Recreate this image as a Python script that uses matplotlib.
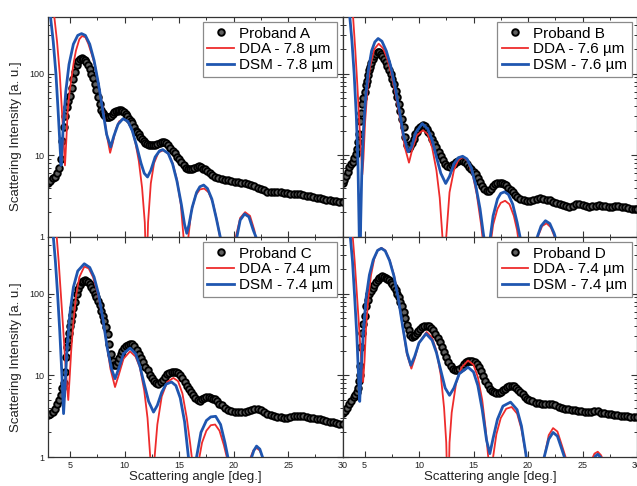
import matplotlib
matplotlib.use("Agg")
import matplotlib.pyplot as plt
from matplotlib.ticker import MultipleLocator, FixedLocator, FixedFormatter, LogLocator, NullFormatter

plt.rcParams['font.family'] = ['Liberation Sans', 'DejaVu Sans']

# ---------------- data ----------------
panel_names = ["A", "B", "C", "D"]
sizes = ["7.8", "7.6", "7.4", "7.4"]

# Proband A
angle_A = [3.0,3.2,3.4,3.6,3.8,4.0,4.15,4.3,4.4,4.55,4.7,4.85,5.0,5.15,5.3,5.45,5.6,5.75,5.9,6.05,
           6.2,6.35,6.5,6.65,6.8,6.95,7.1,7.25,7.4,7.55,7.7,7.85,8.0,8.15,8.3,8.45,8.6,8.75,8.9,9.05,
           9.2,9.35,9.5,9.65,9.8,9.95,10.1,10.25,10.4,10.55,10.7,10.85,11.0,11.15,11.3,11.45,11.6,11.75,11.9,12.05,
           12.2,12.4,12.6,12.8,13.0,13.2,13.4,13.6,13.8,14.0,14.2,14.4,14.6,14.8,15.0,15.2,15.4,15.6,15.8,16.0,
           16.2,16.4,16.6,16.8,17.0,17.2,17.4,17.6,17.8,18.0,18.3,18.6,18.9,19.2,19.5,19.8,20.1,20.4,20.7,21.0,
           21.3,21.6,21.9,22.2,22.5,22.8,23.1,23.4,23.7,24.0,24.3,24.6,24.9,25.2,25.5,25.8,26.1,26.4,26.7,27.0,
           27.3,27.6,27.9,28.2,28.5,28.8,29.1,29.4,29.7,30.0]
meas_A = [4.5,4.8,5.2,5.4,6.0,7.0,9.0,15,22,30,39,46,53,66,85,105,128,145,152,154,
          152,148,140,128,115,100,88,75,63,52,42,36,33,31,29.5,29,29.5,30.5,32,33.5,
          34.5,35,35.5,35.5,35,34,32,30,28,26,24.5,22,20,19,18,16.8,16,15,14.3,13.9,
          13.5,13.3,13.2,13.5,13.9,14.2,14.5,14.5,14.0,13.3,12.3,11.3,10.5,9.6,8.9,8.3,7.6,7.0,6.8,6.7,
          6.7,6.9,7.2,7.3,7.1,6.8,6.7,6.4,6.0,5.7,5.4,5.2,5.1,5.0,4.9,4.8,4.7,4.65,4.6,4.5,
          4.4,4.3,4.15,4.0,3.85,3.7,3.55,3.5,3.55,3.55,3.5,3.45,3.4,3.35,3.3,3.3,3.3,3.25,3.2,3.15,
          3.05,3.0,2.95,2.9,2.85,2.8,2.75,2.75,2.7,2.7]
dda_angle_A = [3.45,3.55,3.8,4.05,4.25,4.4,4.53,4.65,4.78,4.95,5.14,5.34,5.54,5.85,6.1,6.4,6.67,7.0,7.28,7.55,
               7.74,8.05,8.35,8.67,8.9,9.2,9.5,9.9,10.3,10.7,11.0,11.3,11.6,11.85,12.0,12.15,12.4,12.7,13.1,13.55,
               14.0,14.4,14.8,15.15,15.4,15.6,15.85,16.1,16.5,16.9,17.3,17.7,18.1,18.5,18.8,19.2,19.9,20.2,20.6,21.05,
               21.5,21.9,22.2,22.9]
dda_A = [900,500,250,100,35,15,7.5,15,35,60,91,140,193,265,290,280,233,170,126,80,
         57,35,18,10.7,14,21,26,28,26,20,14,8.5,4,1.5,0.3,1.5,4.5,8,10.8,11.5,
         10.5,8,5,2.5,1.0,0.2,1.0,2.0,3.2,3.8,3.9,3.5,2.6,1.5,0.9,0.1,0.6,1.0,1.7,2.0,
         1.8,1.2,0.7,0.05]
dsm_angle_A = [3.1,3.2,3.45,3.7,3.9,4.05,4.17,4.35,4.6,4.9,5.3,5.7,6.05,6.4,6.8,7.2,7.6,8.0,8.35,8.72,
               9.0,9.4,9.85,10.3,10.7,11.1,11.5,11.8,12.1,12.4,12.8,13.2,13.5,14.0,14.4,14.8,15.2,15.5,15.7,15.9,
               16.2,16.6,16.9,17.25,17.6,18.0,18.4,18.8,19.5,20.3,20.6,21.0,21.4,21.8,22.1,22.5]
dsm_A = [900,500,250,100,35,15,7.5,20,60,130,230,295,310,295,230,145,75,35,18,12.6,
         17,24,28,26,20,13,8,6,5.4,6.5,9.5,11.3,11.7,10.5,7.8,4.8,2.5,1.4,1.1,1.4,
         2.3,3.5,4.1,4.3,3.9,2.9,1.7,0.95,0.4,1.0,1.6,1.9,1.75,1.2,0.95,0.5]

# Proband B
angle_B = [3.0,3.15,3.3,3.45,3.6,3.75,3.9,4.05,4.2,4.3,4.4,4.5,4.6,4.7,4.8,4.9,5.0,5.1,5.2,5.3,
           5.4,5.5,5.6,5.75,5.9,6.05,6.2,6.35,6.5,6.65,6.8,6.95,7.1,7.25,7.4,7.55,7.7,7.85,8.0,8.15,
           8.3,8.45,8.6,8.75,8.9,9.05,9.2,9.35,9.5,9.65,9.8,9.95,10.1,10.25,10.4,10.55,10.7,10.85,11.0,11.2,
           11.4,11.6,11.8,12.0,12.2,12.4,12.6,12.8,13.0,13.2,13.4,13.6,13.8,14.0,14.2,14.4,14.6,14.8,15.0,15.2,
           15.4,15.6,15.8,16.0,16.2,16.4,16.6,16.8,17.0,17.2,17.4,17.6,17.8,18.0,18.2,18.4,18.6,18.8,19.0,19.3,
           19.6,19.9,20.2,20.5,20.8,21.1,21.4,21.7,22.0,22.3,22.6,22.9,23.2,23.5,23.8,24.1,24.4,24.7,25.0,25.3,
           25.6,25.9,26.2,26.5,26.8,27.1,27.4,27.7,28.0,28.3,28.6,28.9,29.2,29.5,29.8,30.0]
meas_B = [4.6,5.0,5.6,6.2,7.2,7.8,8.3,9.2,10.2,12,14.5,18,26,33,42,50,60,72,82,95,
          110,122,135,150,165,175,183,182,175,165,152,138,125,112,98,87,75,62,52,43,
          35,28,22,16.5,13.5,12.1,12.8,14.2,16,18,19.5,21,22.2,23,23.2,22.5,21,19.3,18,16,
          14,12.5,11,9.8,8.8,7.9,7.3,7.2,7.5,7.9,8.3,8.6,8.7,8.6,8.2,7.7,7.2,6.7,6.2,5.8,
          5.3,4.7,4.2,3.85,3.6,3.6,3.9,4.2,4.4,4.55,4.6,4.55,4.45,4.3,4.0,3.75,3.5,3.25,3.05,2.9,
          2.8,2.75,2.75,2.8,2.9,2.95,2.9,2.85,2.8,2.7,2.6,2.55,2.45,2.35,2.3,2.4,2.5,2.55,2.45,2.35,
          2.3,2.35,2.4,2.45,2.4,2.35,2.3,2.3,2.35,2.35,2.3,2.3,2.25,2.2,2.2,2.2]
dda_angle_B = [3.85,3.95,4.15,4.35,4.55,4.7,4.8,4.9,5.05,5.25,5.5,5.9,6.3,6.7,7.1,7.5,7.9,8.3,8.7,9.08,
               9.4,9.8,10.37,10.8,11.2,11.6,11.9,12.15,12.3,12.5,12.8,13.2,13.6,14.05,14.5,14.9,15.3,15.7,15.95,16.2,
               16.5,16.8,17.2,17.5,17.9,18.3,18.7,19.0,19.3,20.0,20.6,20.9,21.3,21.7,22.1,22.5,23.0]
dda_B = [900,500,200,70,22,10,5.8,9,25,60,120,200,233,205,150,95,52,26,12.5,8.1,
         12,17.5,20.3,18,12.5,6.5,3,1.0,0.2,1.0,3.5,6.5,8.7,9.5,8.4,6,3.3,1.4,0.7,0.1,
         0.7,1.4,2.2,2.6,2.76,2.5,1.8,1.2,0.6,0.05,0.6,1.0,1.35,1.46,1.3,0.95,0.3]
dsm_angle_B = [3.55,3.65,3.85,4.05,4.25,4.4,4.52,4.58,4.65,4.75,4.9,5.1,5.35,5.65,5.95,6.25,6.6,7.0,7.4,7.8,
               8.2,8.6,9.0,9.3,9.7,10.3,10.8,11.2,11.6,12.0,12.45,12.8,13.2,13.6,14.0,14.4,14.8,15.2,15.6,15.9,
               16.2,16.5,16.8,17.2,17.5,17.85,18.2,18.6,19.0,19.3,19.8,20.4,20.8,21.2,21.6,22.0,22.4,22.7]
dsm_B = [900,500,250,100,30,8,1.0,0.3,1.5,6,20,50,110,190,245,270,250,190,125,70,
         35,17,11,12.5,19,24.4,21,15.5,9.5,6,4.5,5.5,7.8,9.3,9.7,9.0,7,4.3,2.2,1.1,
         0.6,0.9,1.8,2.9,3.4,3.55,3.3,2.5,1.5,0.95,0.3,0.5,0.95,1.35,1.57,1.45,1.1,0.8]

# Proband C
angle_C = [3.0,3.2,3.4,3.6,3.8,4.0,4.15,4.3,4.4,4.5,4.6,4.7,4.8,4.9,5.0,5.1,5.2,5.3,5.45,5.6,
           5.75,5.9,6.05,6.2,6.35,6.5,6.65,6.8,6.95,7.1,7.25,7.4,7.55,7.7,7.85,8.0,8.15,8.3,8.45,8.6,
           8.75,8.9,9.05,9.2,9.35,9.5,9.65,9.8,9.95,10.1,10.3,10.5,10.7,10.9,11.1,11.3,11.5,11.7,11.9,12.1,
           12.3,12.5,12.7,12.9,13.1,13.3,13.5,13.7,13.9,14.1,14.3,14.5,14.7,14.9,15.1,15.3,15.5,15.7,15.9,16.1,
           16.3,16.5,16.7,16.9,17.1,17.3,17.5,17.7,17.9,18.1,18.3,18.5,18.7,18.9,19.2,19.5,19.8,20.1,20.4,20.7,
           21.0,21.3,21.6,21.9,22.2,22.5,22.8,23.1,23.4,23.7,24.0,24.3,24.6,24.9,25.2,25.5,25.8,26.1,26.4,26.7,
           27.0,27.3,27.6,27.9,28.2,28.5,28.8,29.1,29.4,29.7,30.0]
meas_C = [3.3,3.4,3.6,3.9,4.4,5.0,5.8,7.0,8.0,11,17,22,27,33,40,47,55,66,80,98,
          115,128,138,145,146,143,139,132,122,112,100,90,81,72,62,54,46,39,32,24,
          18.5,15,13.5,13.3,14.5,16.5,18.5,20,21.5,22.6,23.8,24.4,24,22.6,20.5,18.5,16.5,14.5,12.8,11.5,
          10.2,9.2,8.5,8.0,7.9,8.3,8.9,9.6,10.3,10.8,11.0,11.1,11.0,10.6,10.0,9.2,8.2,7.5,6.9,6.2,
          5.7,5.3,5.0,4.9,5.1,5.3,5.4,5.4,5.3,5.2,5.1,4.8,4.5,4.3,4.0,3.8,3.7,3.6,3.55,3.55,
          3.6,3.7,3.75,3.85,3.9,3.75,3.55,3.4,3.25,3.15,3.1,3.05,3.0,3.0,3.05,3.15,3.2,3.2,3.2,3.1,
          3.0,3.0,2.95,2.9,2.85,2.8,2.7,2.65,2.6,2.55,2.55]
dda_angle_C = [3.7,3.77,3.95,4.15,4.35,4.55,4.7,4.83,4.95,5.1,5.3,5.55,5.85,6.3,6.7,7.1,7.5,7.9,8.3,8.7,
               9.12,9.45,9.9,10.5,11.0,11.4,11.8,12.1,12.35,12.55,12.75,13.0,13.4,13.9,14.47,14.9,15.3,15.7,16.0,16.2,
               16.5,16.8,17.1,17.5,17.9,18.3,18.7,19.1,19.45,20.0,21.0,21.5,21.8,22.1,22.4,22.7,23.2]
dda_C = [900,500,250,100,40,15,8,5.0,9,20,45,95,160,215,205,160,105,58,27,12,
         7.2,10,16,19.7,17,12.5,6.5,3,1.0,0.2,1.0,2.5,5.5,8.3,9.3,8.5,6,3,1.5,0.9,
         0.1,0.9,1.5,2.1,2.45,2.5,2.1,1.4,0.9,0.1,0.4,0.95,1.2,1.29,1.2,0.95,0.3]
dsm_angle_C = [3.4,3.46,3.65,3.85,4.05,4.25,4.4,4.55,4.75,5.0,5.3,5.7,6.3,6.8,7.2,7.6,8.0,8.4,8.8,9.12,
               9.45,9.9,10.5,11.0,11.4,11.8,12.2,12.65,13.0,13.4,13.8,14.3,14.7,15.1,15.5,15.85,16.2,16.6,17.0,17.5,
               17.9,18.35,18.8,19.2,19.5,20.1,21.2,21.6,21.85,22.1,22.4,22.7,23.1]
dsm_C = [900,500,250,100,35,10,3.4,8,25,60,120,190,233,210,160,100,50,22,12,9.1,
         12,18.5,21.6,18.5,13,7.8,4.8,3.55,4.3,6.2,7.8,8.3,7.5,5.3,2.7,1.0,0.2,1.0,2.0,2.8,
         3.1,3.15,2.5,1.5,0.95,0.2,0.5,0.95,1.2,1.36,1.25,0.95,0.4]

# Proband D
angle_D = [3.0,3.2,3.4,3.6,3.8,4.0,4.15,4.3,4.4,4.5,4.56,4.62,4.7,4.8,4.9,5.0,5.15,5.3,5.45,5.6,
           5.75,5.9,6.05,6.2,6.35,6.5,6.65,6.8,6.95,7.1,7.25,7.4,7.55,7.7,7.85,8.0,8.15,8.3,8.45,8.6,
           8.75,8.9,9.05,9.2,9.35,9.5,9.65,9.8,9.95,10.1,10.3,10.5,10.7,10.9,11.1,11.3,11.5,11.7,11.9,12.1,
           12.3,12.5,12.7,12.9,13.1,13.3,13.5,13.7,13.9,14.1,14.3,14.5,14.7,14.9,15.1,15.3,15.5,15.7,15.9,16.1,
           16.3,16.5,16.7,16.9,17.1,17.3,17.5,17.7,17.9,18.1,18.3,18.5,18.7,18.9,19.1,19.3,19.5,19.7,19.9,20.1,
           20.4,20.7,21.0,21.3,21.6,21.9,22.2,22.5,22.8,23.1,23.4,23.7,24.0,24.3,24.6,24.9,25.2,25.5,25.8,26.1,
           26.4,26.7,27.0,27.3,27.6,27.9,28.2,28.5,28.8,29.1,29.4,29.7,30.0]
meas_D = [3.5,3.7,4.0,4.4,4.9,5.4,5.8,6.3,7.0,8.5,10,13,22,33,43,54,70,85,98,108,
          118,128,138,148,155,160,163,162,158,153,147,140,130,120,110,100,90,80,70,60,
          50,42,36,31,29.5,30,31.5,33,35,37,39,40,40.5,40,38,35.5,32.5,29,25.6,22.5,
          19.5,16.8,14.5,13,12.1,11.6,11.5,11.9,12.7,13.6,14.4,15,15.2,15.1,14.6,13.8,12.7,11.3,9.8,8.6,
          7.6,6.9,6.5,6.2,6.0,6.0,6.2,6.6,6.9,7.2,7.4,7.5,7.4,7.1,6.7,6.3,5.9,5.5,5.2,5.0,
          4.8,4.65,4.55,4.5,4.5,4.5,4.45,4.3,4.15,4.0,3.9,3.85,3.8,3.75,3.7,3.65,3.6,3.55,3.6,3.7,
          3.65,3.5,3.45,3.4,3.35,3.3,3.25,3.2,3.15,3.15,3.1,3.1,3.1]
dda_angle_D = [3.85,3.92,4.1,4.3,4.5,4.7,4.87,5.0,5.15,5.35,5.6,5.9,6.2,6.55,6.9,7.3,7.7,8.1,8.5,8.9,
               9.3,9.6,10.0,10.7,11.2,11.6,12.0,12.3,12.5,12.66,12.8,13.0,13.4,13.9,14.5,15.0,15.4,15.8,16.1,16.35,
               16.55,16.8,17.1,17.5,18.0,18.5,19.0,19.4,19.85,20.6,21.5,21.9,22.3,22.7,23.1,23.5,24.2,25.8,26.1,26.4,
               26.7,27.0]
dda_D = [900,500,250,100,40,15,8.3,15,40,90,170,270,340,365,340,260,170,90,40,18,
         12.1,16,25,34,29,20,10,4,1.5,0.2,1.5,3.5,8,12.5,15.2,13.5,9.5,5,2.3,1.0,
         0.1,1.0,1.9,3,3.9,4.1,3.4,2.2,1.0,0.1,1.0,1.85,2.26,2.05,1.4,0.95,0.2,0.9,1.1,1.16,
         1.05,0.85]
dsm_angle_D = [3.6,3.7,3.9,4.1,4.3,4.45,4.56,4.7,4.9,5.15,5.45,5.8,6.2,6.55,6.9,7.3,7.7,8.1,8.5,8.9,
               9.25,9.6,10.0,10.65,11.2,11.6,12.0,12.4,12.8,13.2,13.7,14.5,15.0,15.4,15.8,16.2,16.5,16.8,17.2,17.7,
               18.4,19.0,19.4,19.8,20.5,21.4,21.9,22.3,22.7,23.1,23.45,24.2,25.9,26.2,26.4,26.7,27.0]
dsm_D = [900,500,250,90,30,10,4.8,12,35,90,170,260,340,360,335,255,165,88,40,19,
         13.3,17,25,32.4,27,19,11.5,7,5.7,7,10.5,12.6,11,7.5,3.8,1.6,1.1,1.7,2.9,4.2,
         4.7,3.8,2.4,1.1,0.2,0.9,1.65,2.0,1.8,1.25,0.9,0.2,0.85,1.03,1.08,0.98,0.8]

measured = {"A": (angle_A, meas_A), "B": (angle_B, meas_B), "C": (angle_C, meas_C), "D": (angle_D, meas_D)}
dda = {"A": (dda_angle_A, dda_A), "B": (dda_angle_B, dda_B), "C": (dda_angle_C, dda_C), "D": (dda_angle_D, dda_D)}
dsm = {"A": (dsm_angle_A, dsm_A), "B": (dsm_angle_B, dsm_B), "C": (dsm_angle_C, dsm_C), "D": (dsm_angle_D, dsm_D)}

for d in (measured, dda, dsm):
    for k, (xx, yy) in d.items():
        assert len(xx) == len(yy), (k, len(xx), len(yy))

# ---------------- figure ----------------
W, H = 637, 486
fig = plt.figure(figsize=(W / 100, H / 100), dpi=100)

left_px, mid_px, right_px = 48.3, 342.7, 637.0
top_px, midy_px, bot_px = 16.7, 236.7, 457.0

def rect(x0, x1, y0, y1):
    return [x0 / W, 1 - y1 / H, (x1 - x0) / W, (y1 - y0) / H]

rects = {
    "A": rect(left_px, mid_px, top_px, midy_px),
    "B": rect(mid_px, right_px, top_px, midy_px),
    "C": rect(left_px, mid_px, midy_px, bot_px),
    "D": rect(mid_px, right_px, midy_px, bot_px),
}

red = "#ee2c2c"
blue = "#1f56b0"
spine_col = "#333333"

for i, name in enumerate(panel_names):
    ax = fig.add_axes(rects[name])
    mx, my = measured[name]
    rx, ry = dda[name]
    bx, by = dsm[name]
    ax.plot(mx, my, linestyle="none", marker="o", ms=4.7, mfc="#606060", mec="black",
            mew=1.4, label=f"Proband {name}", zorder=2)
    ax.plot(rx, ry, color=red, lw=1.3, label=f"DDA - {sizes[i]} µm", zorder=3)
    ax.plot(bx, by, color=blue, lw=2.0, label=f"DSM - {sizes[i]} µm", zorder=4)

    ax.set_yscale("log")
    ax.set_xlim(3, 30)
    ax.set_ylim(1, 500)

    ax.xaxis.set_major_locator(MultipleLocator(5))
    ax.xaxis.set_minor_locator(MultipleLocator(2.5))
    ax.yaxis.set_major_locator(FixedLocator([1, 10, 100]))
    ax.yaxis.set_major_formatter(FixedFormatter(["1", "10", "100"]))
    ax.yaxis.set_minor_locator(LogLocator(base=10, subs=(2, 3, 4, 5, 6, 7, 8, 9), numticks=12))
    ax.yaxis.set_minor_formatter(NullFormatter())

    ax.tick_params(which="both", direction="in", top=True, right=True,
                   colors=spine_col, labelcolor="#222222", labelsize=6.5, pad=3)
    ax.tick_params(which="major", length=4, width=0.8)
    ax.tick_params(which="minor", length=2.3, width=0.7)
    for sp in ax.spines.values():
        sp.set_color(spine_col)
        sp.set_linewidth(0.9)

    if name in ("A", "B"):
        ax.tick_params(labelbottom=False)
    else:
        ax.set_xlabel("Scattering angle [deg.]", fontsize=9.5, color="#222222")
        ax.xaxis.set_label_coords(0.5, -0.065)
    if name in ("B", "D"):
        ax.tick_params(labelleft=False)
    else:
        ax.set_ylabel("Scattering Intensity [a. u.]", fontsize=9.5, color="#222222")
        ax.yaxis.set_label_coords(-0.09, 0.455)

    leg = ax.legend(loc="upper right", fontsize=11, frameon=True, fancybox=False,
                    handlelength=1.75, handletextpad=0.3, labelspacing=0.12,
                    borderpad=0.3, borderaxespad=0.35, framealpha=1)
    leg.get_frame().set_edgecolor("#8a8a8a")
    leg.get_frame().set_linewidth(0.9)

fig.savefig("out.png", dpi=100)
